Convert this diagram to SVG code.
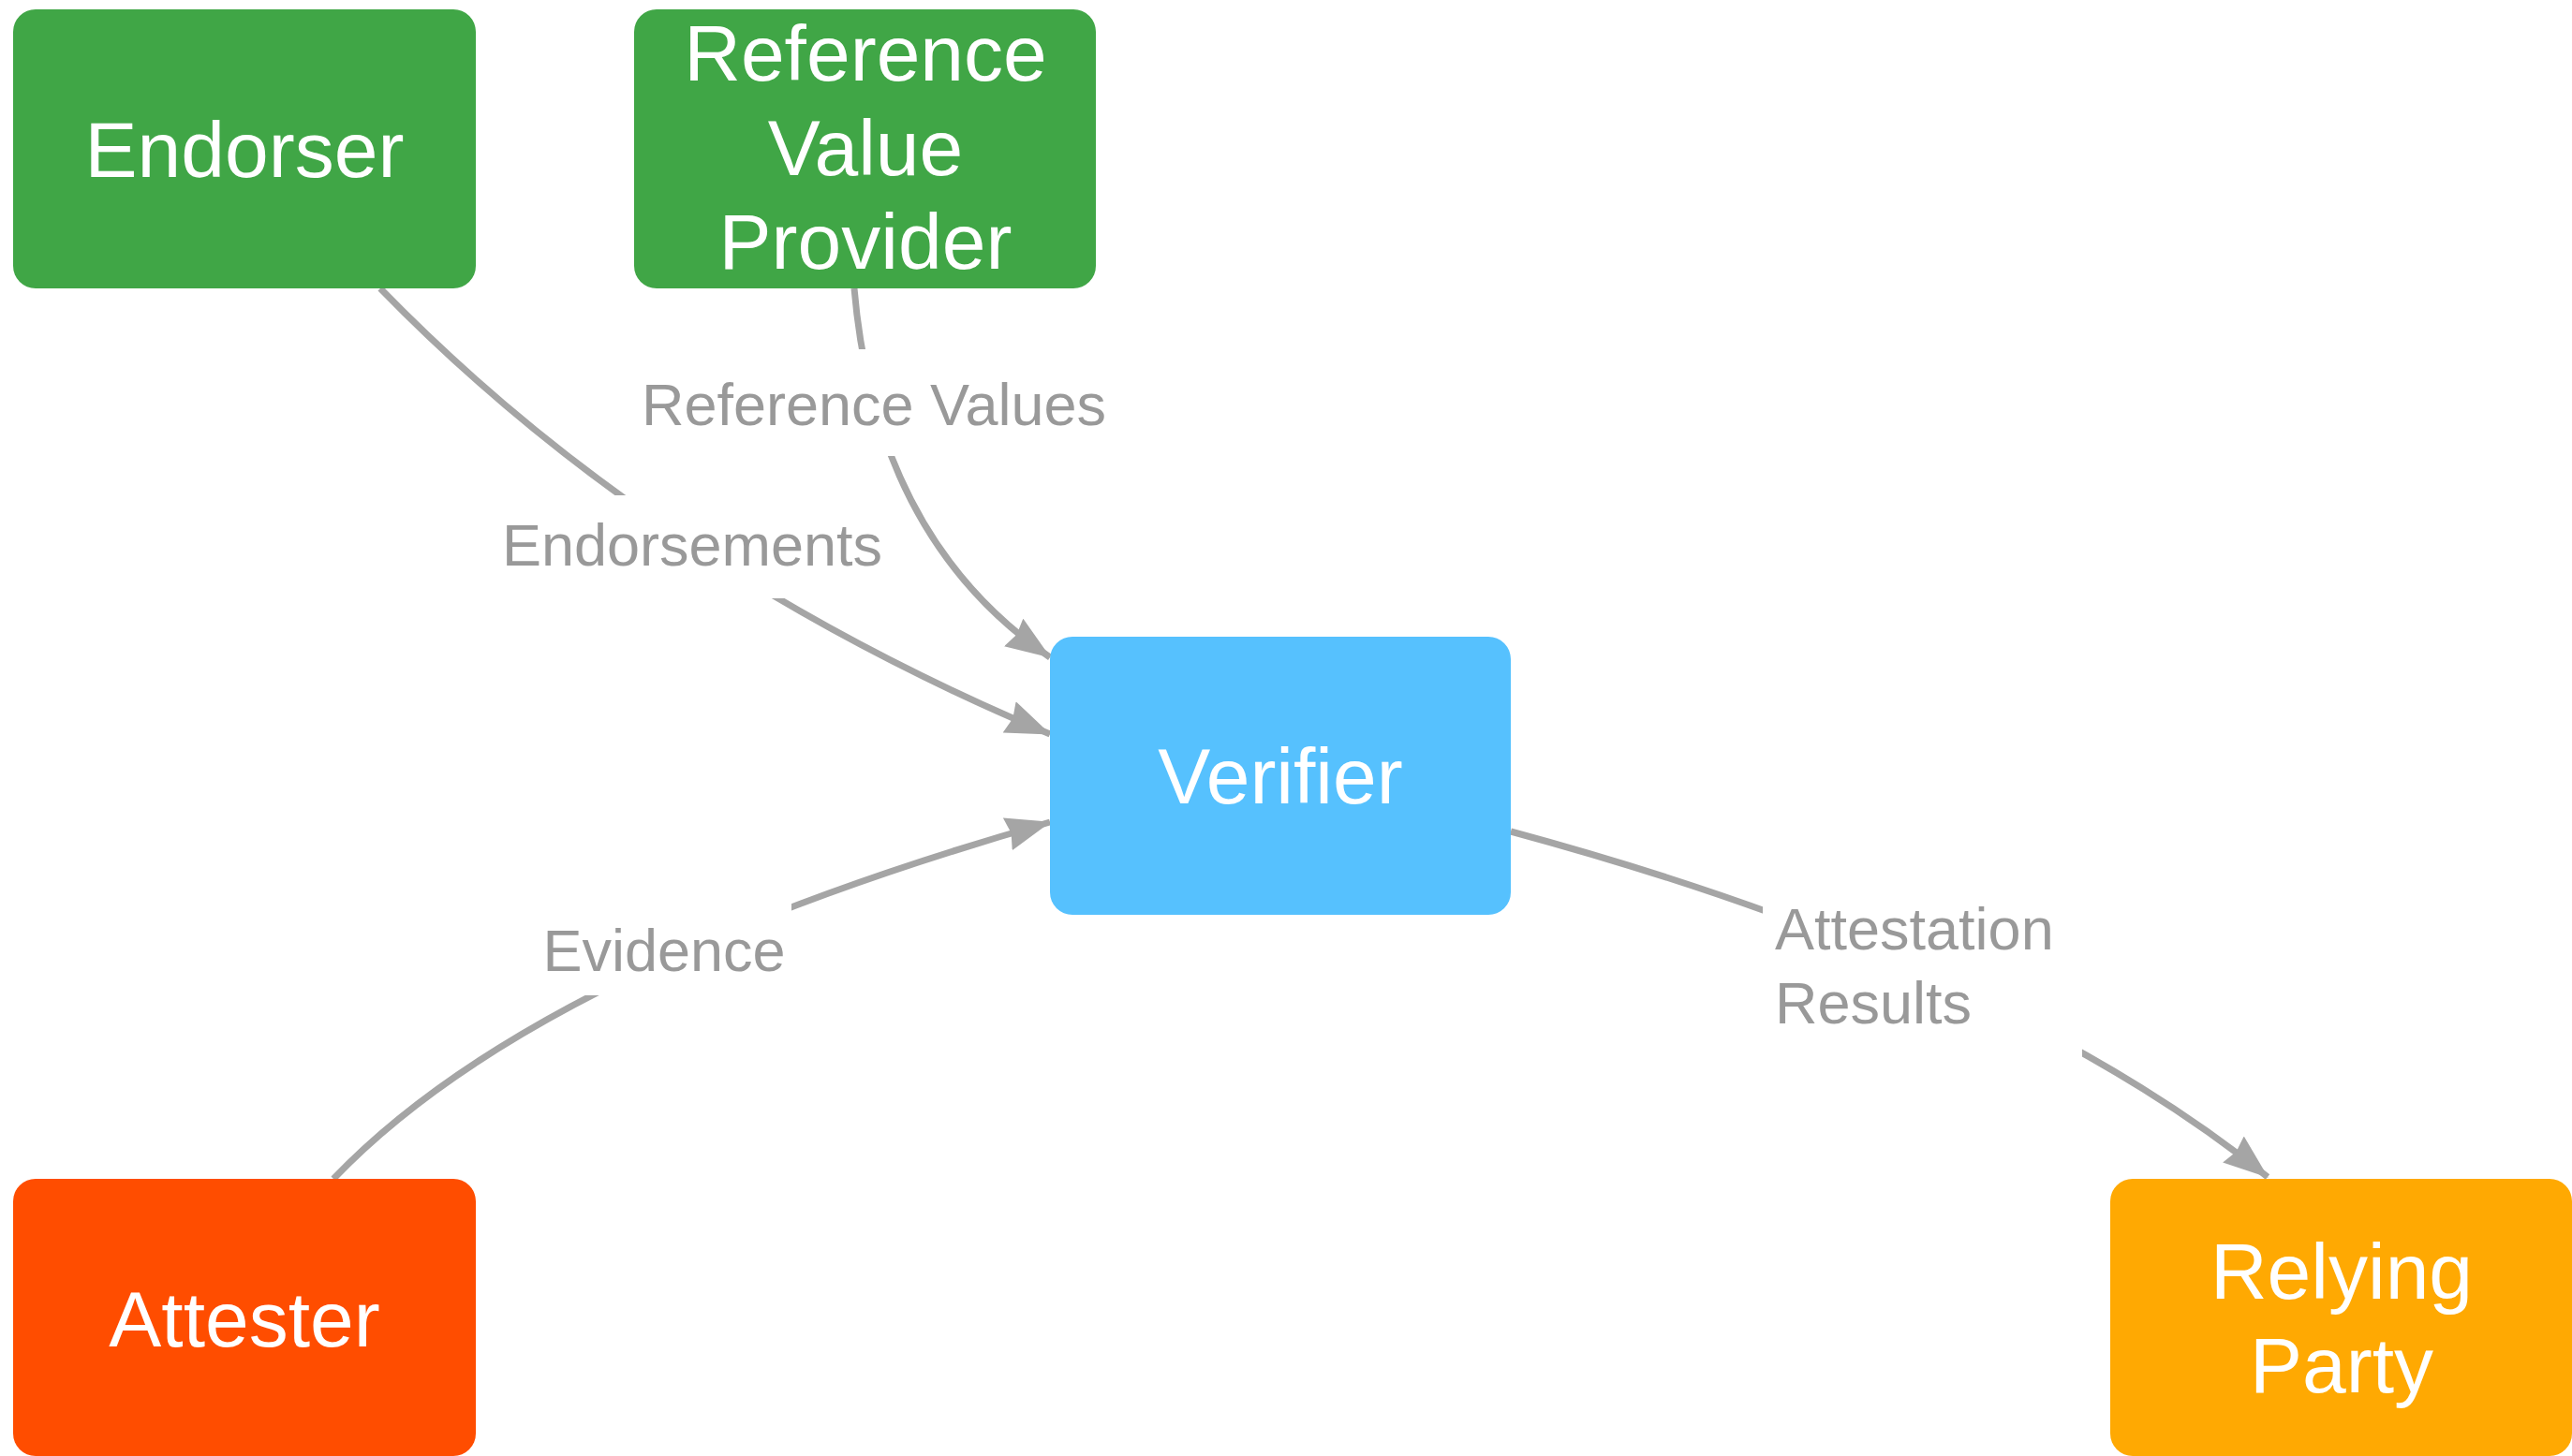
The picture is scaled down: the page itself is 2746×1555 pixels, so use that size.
<svg xmlns="http://www.w3.org/2000/svg" width="2746" height="1555" viewBox="0 0 2746 1555">
<style>
.node-label{font-family:"Liberation Sans",Arial,Helvetica,sans-serif;font-size:84px;fill:#ffffff;text-anchor:middle}
.edge-label{font-family:"Liberation Sans",Arial,Helvetica,sans-serif;font-size:63px;fill:#999999}
.edge{fill:none;stroke:#a5a5a5;stroke-width:7}
.mask{fill:#ffffff}
</style>
<defs>
<marker id="arrow" markerUnits="userSpaceOnUse" viewBox="0 0 48 36" markerWidth="48" markerHeight="36" refX="47" refY="18" orient="auto">
<path d="M0,0 L48,18 L0,36 L4,18 z" fill="#a5a5a5"/>
</marker>
</defs>
<rect width="2746" height="1555" fill="#ffffff"/>
<g id="connectors">
<path class="edge" d="M406,308 Q695,605 1121,784" marker-end="url(#arrow)"/>
<path class="edge" d="M912,308 Q935,575 1121,702" marker-end="url(#arrow)"/>
<path class="edge" d="M356,1259 Q570,1035 1121,878" marker-end="url(#arrow)"/>
<path class="edge" d="M1613,888 Q2141,1031 2421,1257" marker-end="url(#arrow)"/>
<rect class="mask" x="676" y="373" width="514" height="114"/>
<rect class="mask" x="525" y="529" width="430" height="110"/>
<rect class="mask" x="565" y="963" width="280" height="100"/>
<rect class="mask" x="1882" y="940" width="341" height="190"/>
<text class="edge-label" x="933" y="454" text-anchor="middle">Reference Values</text>
<text class="edge-label" x="739" y="604" text-anchor="middle">Endorsements</text>
<text class="edge-label" x="709" y="1037" text-anchor="middle">Evidence</text>
<text class="edge-label" x="1895" y="1014">Attestation</text>
<text class="edge-label" x="1895" y="1093">Results</text>
</g>
<g id="endorser">
<rect x="14" y="10" width="494" height="298" rx="24" fill="#40a646"/>
<text class="node-label" x="261" y="189">Endorser</text>
</g>
<g id="reference-value-provider">
<rect x="677" y="10" width="493" height="298" rx="24" fill="#40a646"/>
<text class="node-label" x="924" y="86">Reference</text>
<text class="node-label" x="924" y="187">Value</text>
<text class="node-label" x="924" y="287">Provider</text>
</g>
<g id="verifier">
<rect x="1121" y="680" width="492" height="297" rx="24" fill="#56c1fe"/>
<text class="node-label" x="1367" y="858">Verifier</text>
</g>
<g id="attester">
<rect x="14" y="1259" width="494" height="296" rx="24" fill="#ff4d00"/>
<text class="node-label" x="261" y="1438">Attester</text>
</g>
<g id="relying-party">
<rect x="2253" y="1259" width="493" height="296" rx="24" fill="#ffa902"/>
<text class="node-label" x="2500" y="1387">Relying</text>
<text class="node-label" x="2500" y="1487">Party</text>
</g>
</svg>
